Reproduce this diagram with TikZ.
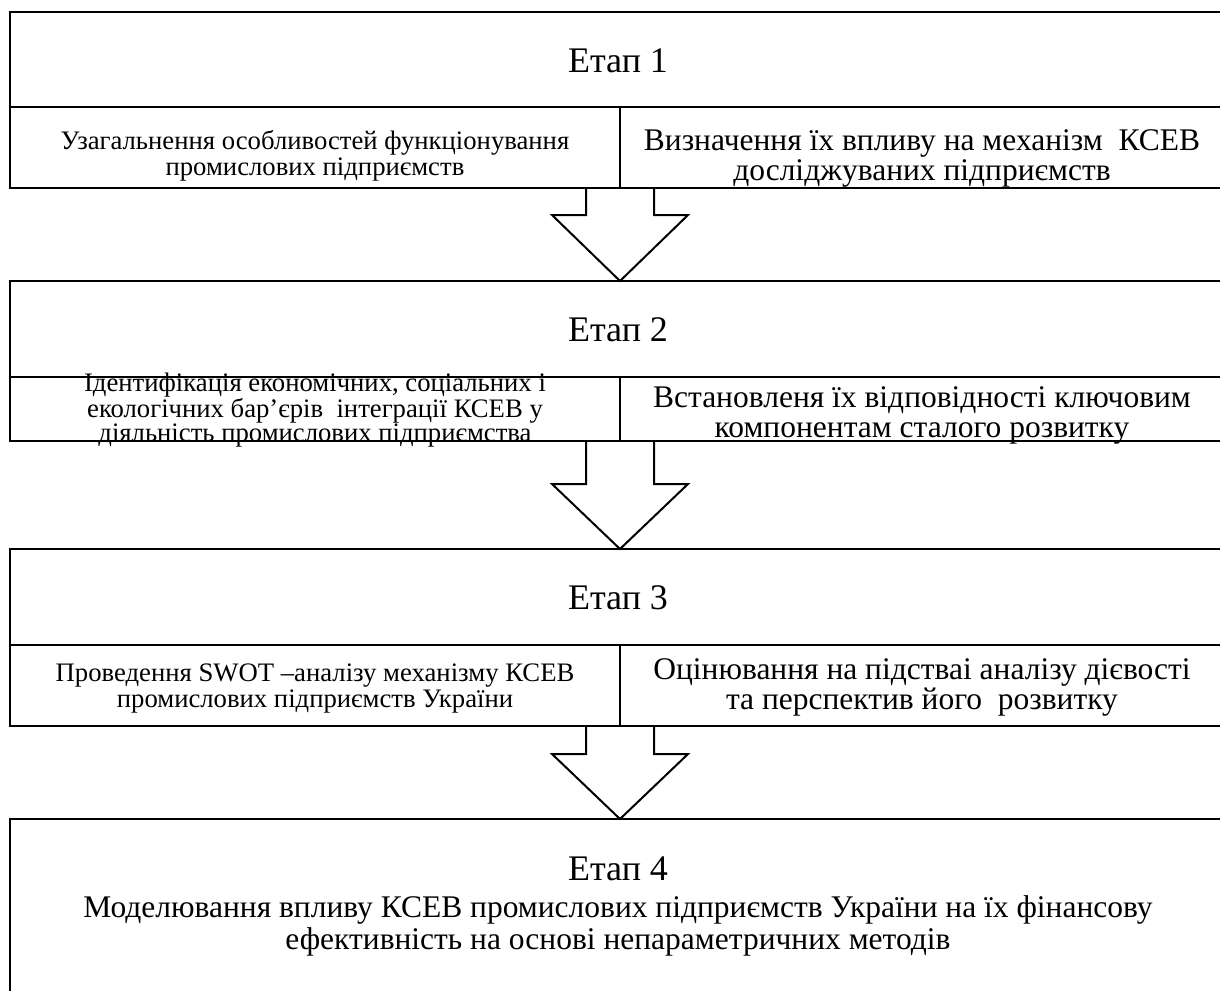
\documentclass[tikz,border=0pt]{standalone}
\usepackage{fontspec}
\setmainfont{Liberation Serif}
\usetikzlibrary{calc}
\begin{document}
\begin{tikzpicture}[x=1pt,y=1pt,
  cell/.style={draw, line width=2pt, rectangle, anchor=north west, inner sep=0pt, outer sep=0pt},
  hdr/.style={font=\fontsize{36}{36}\selectfont, inner sep=0pt},
  bigtxt/.style={font=\fontsize{31.5}{30}\selectfont, align=center, inner sep=0pt},
  smalltxt/.style={font=\fontsize{26.7}{26}\selectfont, align=center, inner sep=0pt},
  tighttxt/.style={font=\fontsize{26.7}{24}\selectfont, align=center, inner sep=0pt},
  blockarrow/.style={draw, line width=2pt, line join=miter}]
\useasboundingbox (0,0) rectangle (1220,-990);
\clip (0,0) rectangle (1220,-990);
% stage 1
\node[cell, minimum width=1220pt, minimum height=95pt] (h1) at (10,-12) {};
\node[cell, minimum width=610pt, minimum height=81pt] (l1) at (10,-107) {};
\node[cell, minimum width=610pt, minimum height=81pt] (r1) at (620,-107) {};
% stage 2
\node[cell, minimum width=1220pt, minimum height=96pt] (h2) at (10,-281) {};
\node[cell, minimum width=610pt, minimum height=64pt] (l2) at (10,-377) {};
\node[cell, minimum width=610pt, minimum height=64pt] (r2) at (620,-377) {};
% stage 3
\node[cell, minimum width=1220pt, minimum height=96pt] (h3) at (10,-549) {};
\node[cell, minimum width=610pt, minimum height=81pt] (l3) at (10,-645) {};
\node[cell, minimum width=610pt, minimum height=81pt] (r3) at (620,-645) {};
% stage 4
\node[cell, minimum width=1220pt, minimum height=200pt] (h4) at (10,-819) {};

% texts
\node[hdr] (t1) at (618,-61) {Етап 1};
\node[smalltxt] (x1) at (315,-156) {Узагальнення особливостей функціонування\\промислових підприємств};
\node[bigtxt] (y1) at (922,-158) {Визначення їх впливу на механізм~~КСЕВ\\досліджуваних підприємств};

\node[hdr] (t2) at (618,-330) {Етап 2};
\node[tighttxt] (x2) at (315,-410) {Ідентифікація економічних, соціальних і\\екологічних бар’єрів~~інтеграції КСЕВ у\\діяльність промислових підприємства};
\node[bigtxt] (y2) at (922,-415) {Встановленя їх відповідності ключовим\\компонентам сталого розвитку};

\node[hdr] (t3) at (618,-598) {Етап 3};
\node[smalltxt] (x3) at (315,-688) {Проведення SWOT –аналізу механізму КСЕВ\\промислових підприємств України};
\node[bigtxt] (y3) at (922,-687) {Оцінювання на підстваі аналізу дієвості\\та перспектив його~~розвитку};

\node[hdr] (t4) at (618,-869) {Етап 4};
\node[font=\fontsize{31.5}{32}\selectfont, align=center, inner sep=0pt] (x4) at (618,-926) {Моделювання впливу КСЕВ промислових підприємств України на їх фінансову\\ефективність на основі непараметричних методів};

% block arrows
\coordinate (a1) at (r1.south west);
\draw[blockarrow] ($(a1)+(-34,0)$) -- ($(a1)+(-34,-27)$) -- ($(a1)+(-68,-27)$)
  -- (a1 |- h2.north) -- ($(a1)+(68,-27)$) -- ($(a1)+(34,-27)$) -- ($(a1)+(34,0)$);
\coordinate (a2) at (r2.south west);
\draw[blockarrow] ($(a2)+(-34,0)$) -- ($(a2)+(-34,-43)$) -- ($(a2)+(-68,-43)$)
  -- (a2 |- h3.north) -- ($(a2)+(68,-43)$) -- ($(a2)+(34,-43)$) -- ($(a2)+(34,0)$);
\coordinate (a3) at (r3.south west);
\draw[blockarrow] ($(a3)+(-34,0)$) -- ($(a3)+(-34,-28)$) -- ($(a3)+(-68,-28)$)
  -- (a3 |- h4.north) -- ($(a3)+(68,-28)$) -- ($(a3)+(34,-28)$) -- ($(a3)+(34,0)$);
\end{tikzpicture}
\end{document}
